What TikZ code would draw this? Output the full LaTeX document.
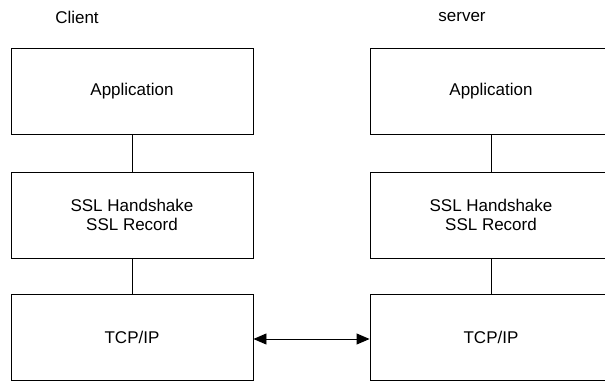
\documentclass[tikz,border=0pt]{standalone}
\usepackage{fontspec}
\setmainfont{Liberation Sans}
\usetikzlibrary{arrows.meta}
\begin{document}
\begin{tikzpicture}[x=1pt,y=-1pt,
  layer/.style={draw,line width=0.9pt,minimum width=242pt,inner sep=0pt,align=center,
    font=\fontsize{17}{18.5}\selectfont},
  lbl/.style={font=\fontsize{17}{18.5}\selectfont},
  conn/.style={line width=0.9pt}]
\useasboundingbox (0,0) rectangle (605,381);
\node[lbl] (cl) at (77,17) {Client};
\node[lbl] (sv) at (462,17) {server};
\node[layer,minimum height=86pt] (ca) at (132,91) {Application};
\node[layer,minimum height=86pt] (cs) at (132,215) {SSL Handshake\\SSL Record};
\node[layer,minimum height=86pt] (ct) at (132,337) {TCP/IP};
\node[layer,minimum height=86pt] (sa) at (491,91) {Application};
\node[layer,minimum height=86pt] (ss) at (491,215) {SSL Handshake\\SSL Record};
\node[layer,minimum height=86pt] (st) at (491,337) {TCP/IP};
\draw[conn] (ca) -- (cs);
\draw[conn] (cs) -- (ct);
\draw[conn] (sa) -- (ss);
\draw[conn] (ss) -- (st);
\draw[conn,{Triangle[length=13pt,width=11pt]}-{Triangle[length=13pt,width=11pt]}] (ct.east |- 0,339) -- (st.west |- 0,339);
\end{tikzpicture}
\end{document}
